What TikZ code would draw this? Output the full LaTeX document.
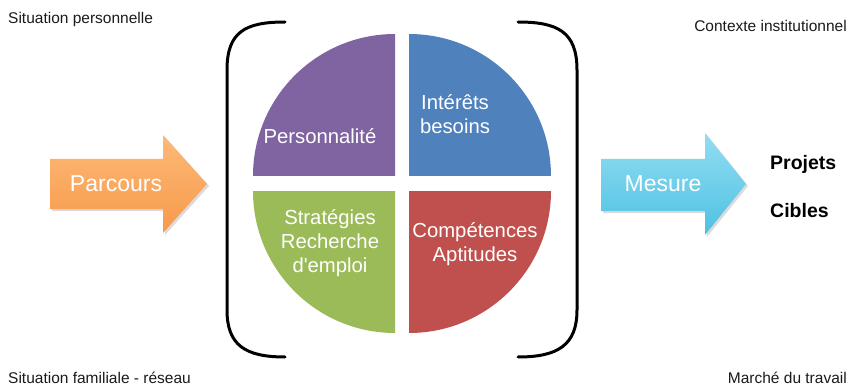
\documentclass[tikz,border=0pt]{standalone}
\usepackage{fontspec}
\setmainfont{Liberation Sans}
\newfontfamily\plainsans{Liberation Sans}
\definecolor{qpurple}{HTML}{8064A2}
\definecolor{qblue}{HTML}{4F81BD}
\definecolor{qgreen}{HTML}{9BBB59}
\definecolor{qred}{HTML}{C0504D}
\definecolor{orTop}{HTML}{FDB978}
\definecolor{orBot}{HTML}{F79A4A}
\definecolor{cyTop}{HTML}{93DDF2}
\definecolor{cyBot}{HTML}{4EC1E2}
\definecolor{txtgray}{HTML}{1A1A1A}
\begin{document}
\begin{tikzpicture}[x=1pt,y=-1pt,
  corner/.style={font=\fontsize{15.5}{18}\selectfont, text=txtgray, inner sep=0},
  quad/.style={font=\plainsans\fontsize{20.3}{24}\selectfont, text=white, align=center, inner sep=0},
  arrowtxt/.style={font=\fontsize{23}{27}\selectfont, text=white, inner sep=0},
  goal/.style={font=\bfseries\fontsize{19.5}{23}\selectfont, text=black, inner sep=0, anchor=base west},
  bracket/.style={line width=3pt, line cap=round},
  bigarrow/.style={draw=none},
  shade/.style={fill=black!14},
]
\useasboundingbox (0,0) rectangle (849,385);

% corner texts
\node[corner, anchor=base west] (sp) at (8,24) {Situation personnelle};
\node[corner, anchor=base east] (ci) at (847,32) {Contexte institutionnel};
\node[corner, anchor=base west] (sf) at (8,383) {Situation familiale - réseau};
\node[corner, anchor=base east] (mt) at (847,383) {Marché du travail};

% brackets
\draw[bracket] (285,22) .. controls (245,22) and (227,32) .. (227,70) -- (227,310) .. controls (227,345) and (245,357) .. (285,357);
\draw[bracket] (518,22) .. controls (558,22) and (577,32) .. (577,70) -- (577,310) .. controls (577,345) and (558,357) .. (518,357);

% quadrants
\fill[qpurple] (395,176) -- ++(-142,0) arc[start angle=180, end angle=270, radius=142] -- cycle;
\fill[qblue]   (409,176) -- ++(0,-142) arc[start angle=270, end angle=360, radius=142] -- cycle;
\fill[qred]    (409,191) -- ++(142,0) arc[start angle=0, end angle=90, radius=142] -- cycle;
\fill[qgreen]  (395,191) -- ++(0,142) arc[start angle=90, end angle=180, radius=142] -- cycle;

\node[quad] (pers) at (320,136) {Personnalité};
\node[quad] (int) at (455,114) {Intérêts\\besoins};
\node[quad] (strat) at (330,243) {Stratégies\\Recherche\\d'emploi};
\node[quad] (comp) at (475,244) {Compétences\\Aptitudes};

% arrows
\fill[shade] (52,161) -- (165,161) -- (165,137) -- (209,186) -- (165,235) -- (165,211) -- (52,211) -- cycle;
\path[bigarrow, top color=orTop, bottom color=orBot] (50,159) -- (163,159) -- (163,135) -- (207,184) -- (163,233) -- (163,209) -- (50,209) -- cycle;
\node[arrowtxt] (parc) at (116,184) {Parcours};

\fill[shade] (603,161) -- (707,161) -- (707,135) -- (748,186) -- (707,237) -- (707,213) -- (603,213) -- cycle;
\path[bigarrow, top color=cyTop, bottom color=cyBot] (601,159) -- (705,159) -- (705,133) -- (746,184) -- (705,235) -- (705,211) -- (601,211) -- cycle;
\node[arrowtxt] (mes) at (663,184) {Mesure};

\node[goal] (proj) at (770,170) {Projets};
\node[goal] (cib) at (770,217) {Cibles};
\end{tikzpicture}
\end{document}
